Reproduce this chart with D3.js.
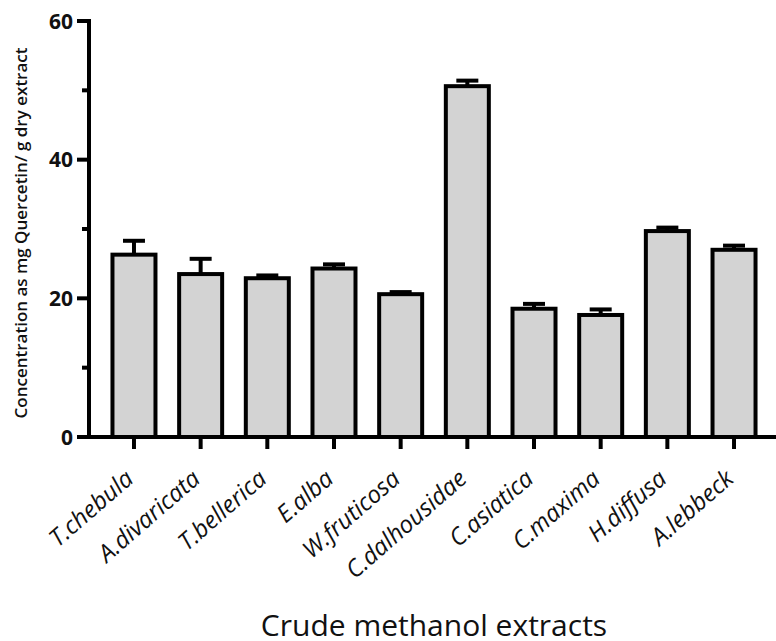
<!DOCTYPE html>
<html>
<head>
<meta charset="utf-8">
<script src="https://cdn.jsdelivr.net/npm/d3@7"></script>
<style>
  html, body { margin: 0; padding: 0; background: #fff; }
  svg { display: block; }
</style>
</head>
<body>
<svg id="chart" width="776" height="641"></svg>
<script>
// Flavonoid content of crude methanol extracts (mean + SD)
const categories = ["T.chebula", "A.divaricata", "T.bellerica", "E.alba", "W.fruticosa",
                    "C.dalhousidae", "C.asiatica", "C.maxima", "H.diffusa", "A.lebbeck"];
const means = [26.3, 23.5, 22.9, 24.3, 20.6, 50.6, 18.5, 17.6, 29.7, 27.0];
const errors = [2.0, 2.2, 0.4, 0.6, 0.3, 0.8, 0.7, 0.8, 0.5, 0.6];
const yTicks = [0, 20, 40, 60];
const yMinorTicks = [10, 30, 50];

const svg = d3.select("#chart");
const x0 = 89, x1 = 779, yBase = 437, yTop = 21;

const x = d3.scaleBand()
  .domain(categories)
  .range([x0, x1])
  .paddingInner(0.355)
  .paddingOuter(0.352);

const y = d3.scaleLinear().domain([0, 60]).range([yBase, yTop]);

const data = categories.map((c, i) => ({ c, m: means[i], e: errors[i] }));
const cx = d => x(d) + x.bandwidth() / 2;

// Error bars (upper whisker only)
const eb = svg.append("g").attr("stroke", "#000").attr("stroke-width", 4);
eb.selectAll("line.v").data(data).join("line")
  .attr("class", "v")
  .attr("x1", d => cx(d.c))
  .attr("x2", d => cx(d.c))
  .attr("y1", d => y(d.m))
  .attr("y2", d => y(d.m + d.e));
eb.selectAll("line.cap").data(data).join("line")
  .attr("class", "cap")
  .attr("x1", d => cx(d.c) - 11)
  .attr("x2", d => cx(d.c) + 11)
  .attr("y1", d => y(d.m + d.e))
  .attr("y2", d => y(d.m + d.e));

// Bars
svg.append("g").selectAll("rect").data(data).join("rect")
  .attr("x", d => x(d.c))
  .attr("y", d => y(d.m))
  .attr("width", x.bandwidth())
  .attr("height", d => y(0) - y(d.m))
  .attr("fill", "#d3d3d3")
  .attr("stroke", "#000")
  .attr("stroke-width", 4);

// Y axis
const yAxis = svg.append("g").attr("transform", `translate(${x0},0)`);
yAxis.append("line")
  .attr("x1", 0).attr("x2", 0)
  .attr("y1", yTop - 2).attr("y2", yBase + 2)
  .attr("stroke", "#000").attr("stroke-width", 4);
yAxis.selectAll("line.major").data(yTicks).join("line")
  .attr("class", "major")
  .attr("x1", -12).attr("x2", 0)
  .attr("y1", d => y(d)).attr("y2", d => y(d))
  .attr("stroke", "#000").attr("stroke-width", 4);
yAxis.selectAll("line.minor").data(yMinorTicks).join("line")
  .attr("class", "minor")
  .attr("x1", -7).attr("x2", 0)
  .attr("y1", d => y(d)).attr("y2", d => y(d))
  .attr("stroke", "#000").attr("stroke-width", 4);
yAxis.selectAll("text").data(yTicks).join("text")
  .attr("x", -16)
  .attr("y", d => y(d))
  .attr("dy", "0.36em")
  .attr("text-anchor", "end")
  .attr("font-family", "'Open Sans', sans-serif")
  .attr("font-weight", "bold")
  .attr("font-size", 21)
  .attr("fill", "#111")
  .text(d => d);

// X axis
const xAxis = svg.append("g").attr("transform", `translate(0,${yBase})`);
xAxis.append("line")
  .attr("x1", x0 - 2).attr("x2", x1)
  .attr("y1", 0).attr("y2", 0)
  .attr("stroke", "#000").attr("stroke-width", 4);
xAxis.selectAll("line.tick").data(categories).join("line")
  .attr("class", "tick")
  .attr("x1", d => cx(d))
  .attr("x2", d => cx(d))
  .attr("y1", 0).attr("y2", 12)
  .attr("stroke", "#000").attr("stroke-width", 4);
xAxis.selectAll("text").data(categories).join("text")
  .attr("transform", d => `translate(${cx(d) + 1},${44}) rotate(-41)`)
  .attr("text-anchor", "end")
  .attr("font-family", "'Open Sans', sans-serif")
  .attr("font-style", "italic")
  .attr("font-size", 24)
  .attr("fill", "#111")
  .text(d => d);

// Axis titles
svg.append("text")
  .attr("transform", `translate(27,${(yTop + yBase) / 2 + 4}) rotate(-90)`)
  .attr("text-anchor", "middle")
  .attr("font-family", "'Open Sans', sans-serif")
  .attr("font-weight", 600)
  .attr("font-size", 17)
  .attr("fill", "#111")
  .text("Concentration as mg Quercetin/ g dry extract");

svg.append("text")
  .attr("x", 434)
  .attr("y", 636)
  .attr("text-anchor", "middle")
  .attr("font-family", "'Open Sans', sans-serif")
  .attr("font-size", 30)
  .attr("fill", "#111")
  .text("Crude methanol extracts");
</script>
</body>
</html>
